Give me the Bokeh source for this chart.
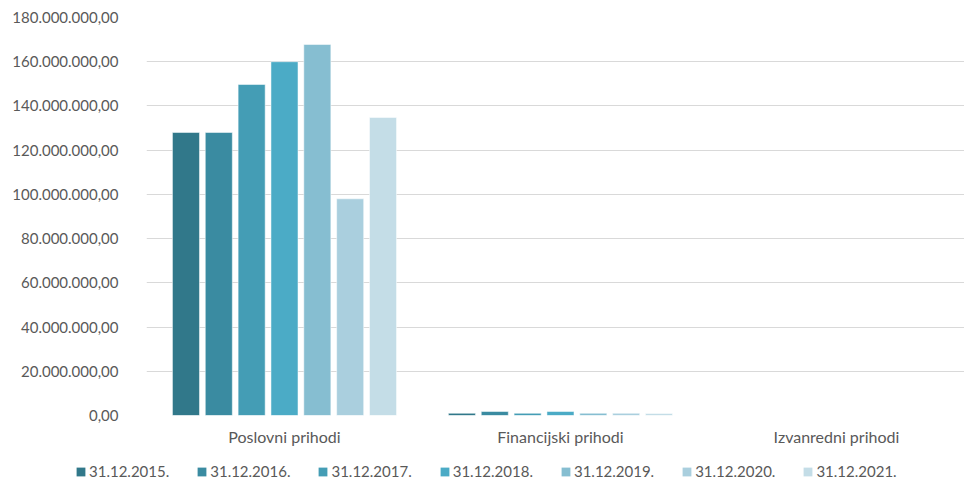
from bokeh.plotting import figure
from bokeh.models import FixedTicker, Legend, LegendItem, ColumnDataSource, Range1d
from bokeh.transform import dodge
from bokeh.embed import file_html
from bokeh.resources import INLINE

categories = ["Poslovni prihodi", "Financijski prihodi", "Izvanredni prihodi"]
years = ["31.12.2015.", "31.12.2016.", "31.12.2017.", "31.12.2018.", "31.12.2019.", "31.12.2020.", "31.12.2021."]
v2015 = [128_000_000, 1_000_000, 0]
v2016 = [128_000_000, 1_800_000, 0]
v2017 = [149_700_000, 1_000_000, 0]
v2018 = [160_000_000, 1_800_000, 0]
v2019 = [167_800_000, 1_000_000, 0]
v2020 = [98_000_000, 1_000_000, 0]
v2021 = [134_800_000, 900_000, 0]
series = [v2015, v2016, v2017, v2018, v2019, v2020, v2021]
colors = ["#31788A", "#3A8BA1", "#449DB5", "#4BABC6", "#86BED1", "#AACFDE", "#C4DDE7"]
tick_values = [0, 20_000_000, 40_000_000, 60_000_000, 80_000_000, 100_000_000,
               120_000_000, 140_000_000, 160_000_000, 180_000_000]

FONT = "Lato"
TXT = "#595959"

def fmt(v):
    s = f"{v:,.2f}"
    return s.replace(",", "X").replace(".", ",").replace("X", ".")

cat_pos = [i + 0.5 for i in range(len(categories))]
data = {"x": cat_pos}
for y, s in zip(years, series):
    data[y] = s
src = ColumnDataSource(data)

# the original chart area is cut at the right edge, so the last category is partly off-view
p = figure(x_range=Range1d(0, 2.964), y_range=Range1d(0, 180_000_000),
           width=964, height=455, output_backend="svg", toolbar_location=None,
           min_border_left=146, min_border_right=0, min_border_top=17, min_border_bottom=40)
p.outline_line_color = None
p.background_fill_color = "white"
p.border_fill_color = "white"

n = len(years)
for i, (y, c) in enumerate(zip(years, colors)):
    p.vbar(x=dodge("x", (i - (n - 1) / 2) * 0.119), top=y, width=0.098,
           source=src, fill_color=c, line_color="white", line_alpha=0.5, line_width=1)

p.yaxis.ticker = FixedTicker(ticks=tick_values)
p.yaxis.major_label_overrides = {v: fmt(v) for v in tick_values}
p.xaxis.ticker = FixedTicker(ticks=cat_pos)
p.xaxis.major_label_overrides = {pos: c for pos, c in zip(cat_pos, categories)}
for ax in (p.xaxis, p.yaxis):
    ax.axis_line_color = None
    ax.major_tick_line_color = None
    ax.minor_tick_line_color = None
    ax.major_label_text_font = FONT
    ax.major_label_text_color = TXT
p.yaxis.major_label_text_font_size = "15px"
p.xaxis.major_label_text_font_size = "16px"
p.yaxis.major_label_standoff = 22
p.xaxis.major_label_standoff = 5
p.xgrid.grid_line_color = None
p.ygrid.grid_line_color = "#D9D9D9"
p.ygrid.grid_line_width = 1

# legend strip below the chart (separate root)
lg = figure(width=964, height=30, output_backend="svg", toolbar_location=None,
            x_range=(0, 1), y_range=(0, 1), x_axis_location=None, y_axis_location=None,
            min_border_left=0, min_border_right=0, min_border_top=0, min_border_bottom=0)
lg.grid.visible = False
lg.outline_line_color = None
lg.border_fill_color = "white"
lg.background_fill_color = "white"
items = []
for y, c in zip(years, colors):
    r = lg.vbar(x=[0], top=[0], width=0, fill_color=c, line_color=None)
    items.append(LegendItem(label=y, renderers=[r]))
legend = Legend(items=items, orientation="horizontal", location=(75, 5),
                label_text_font=FONT, label_text_font_size="15px", label_text_color=TXT,
                glyph_width=11, glyph_height=11, label_standoff=3, spacing=27,
                border_line_color=None, background_fill_alpha=0, padding=0, margin=0)
lg.add_layout(legend, "center")

open("out.html", "w").write(file_html([p, lg], INLINE))
